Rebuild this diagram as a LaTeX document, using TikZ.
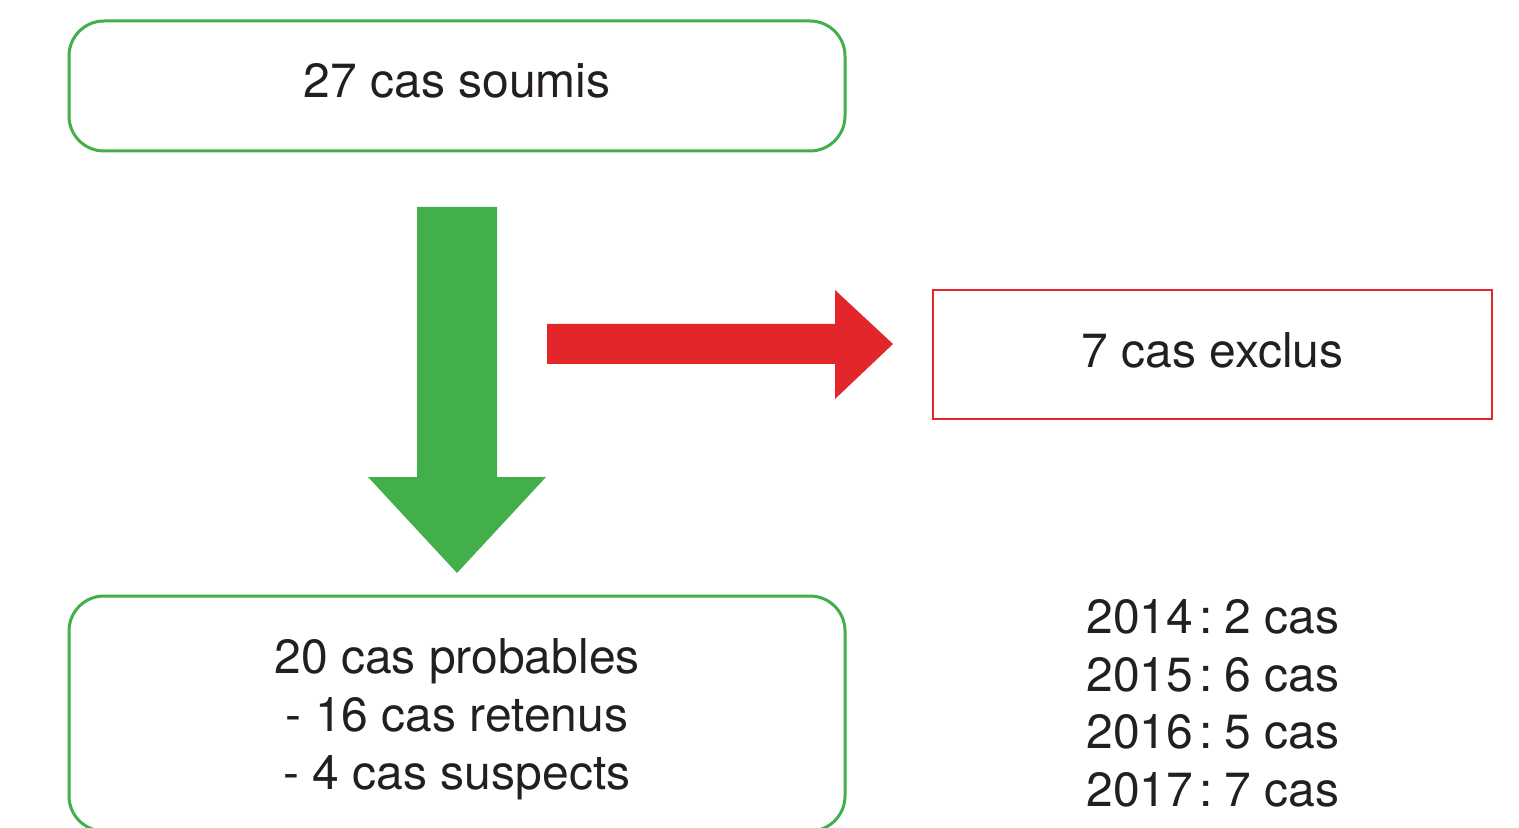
\documentclass[tikz,border=0pt]{standalone}
\usepackage{fontspec}
\setmainfont{TeX Gyre Heros}
\definecolor{gGreen}{HTML}{43AF4B}
\definecolor{gRed}{HTML}{E2262A}
\definecolor{gText}{HTML}{231F20}
\tikzset{
  gbox/.style={draw=gGreen, line width=1.5pt, rounded corners=17.5pt, minimum width=388pt, inner sep=0pt, fill=none},
  rbox/.style={draw=gRed, line width=1.2pt, minimum width=279.5pt, minimum height=64.5pt, inner sep=0pt},
  txt/.style={text=gText, font=\fontsize{24}{28.75}\selectfont, inner sep=0pt, align=center},
  garrow/.style={fill=gGreen},
  rarrow/.style={fill=gRed}
}
\newcommand{\yearcolon}{\hspace{3pt}:\hspace{6pt}}
\begin{document}
\begin{tikzpicture}[x=0.5pt,y=-0.5pt]
\useasboundingbox (0,0) rectangle (1519,828);
% boxes
\node[gbox, minimum height=65pt] (top) at (457,86) {};
\node[txt, anchor=base] (toptext) at (457,98) {27 cas soumis};
\node[rbox] (excl) at (1212.5,354.5) {};
\node[txt, anchor=base] (excltext) at (1212.5,367) {7 cas exclus};
\node[gbox, minimum height=117.5pt] (bottom) at (457,713.5) {};
\node[txt, anchor=base] (b1) at (457,673) {20 cas probables};
\node[txt, anchor=base] (b2) at (457,731) {- 16 cas retenus};
\node[txt, anchor=base] (b3) at (457,789) {- 4 cas suspects};
% year counts
\node[txt, anchor=base west] (y1) at (1086,633) {2014\yearcolon 2 cas};
\node[txt, anchor=base west] (y2) at (1086,691) {2015\yearcolon 6 cas};
\node[txt, anchor=base west] (y3) at (1086,748) {2016\yearcolon 5 cas};
\node[txt, anchor=base west] (y4) at (1086,806) {2017\yearcolon 7 cas};
% block arrows
\fill[garrow] (417,207) -- (497,207) -- (497,477) -- (546,477) -- (457,573) -- (368,477) -- (417,477) -- cycle;
\fill[rarrow] (547,324) -- (835,324) -- (835,290) -- (893,344) -- (835,399) -- (835,364) -- (547,364) -- cycle;
\end{tikzpicture}
\end{document}
